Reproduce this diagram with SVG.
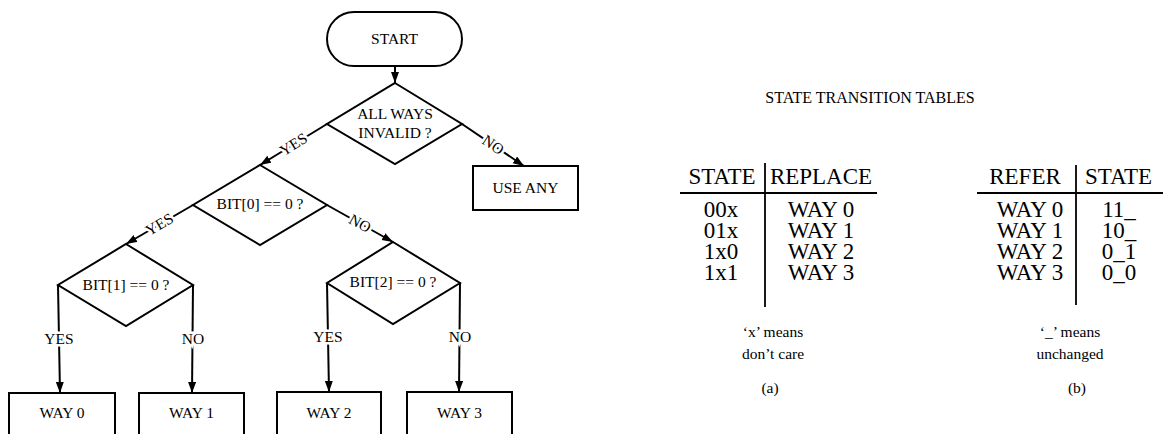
<svg xmlns="http://www.w3.org/2000/svg" width="1163" height="434" viewBox="0 0 1163 434">
<style>
.s{fill:#fff;stroke:#000;stroke-width:2}
.t{font-family:"Liberation Serif","Times New Roman",serif;font-size:15.5px;fill:#000;text-anchor:middle}
.lb{font-family:"Liberation Serif","Times New Roman",serif;font-size:15.5px;fill:#000;text-anchor:middle;stroke:#fff;stroke-width:5;paint-order:stroke}
.c{fill:none;stroke:#000;stroke-width:2}
.tb{font-family:"Liberation Serif","Times New Roman",serif;font-size:23px;fill:#000;text-anchor:middle}
.tl{stroke:#000;stroke-width:1.8}
</style>
<defs>
<marker id="ah" markerUnits="userSpaceOnUse" markerWidth="13" markerHeight="10" refX="11" refY="4" orient="auto">
<path d="M0,0 L11,4 L0,8 Z" fill="#000"/>
</marker>
</defs>
<g id="connectors">
<line class="c" x1="395" y1="66" x2="395" y2="83" marker-end="url(#ah)"/>
<line class="c" x1="327" y1="124" x2="260" y2="165" marker-end="url(#ah)"/>
<line class="c" x1="462" y1="124" x2="524" y2="166" marker-end="url(#ah)"/>
<line class="c" x1="193" y1="205" x2="126" y2="244" marker-end="url(#ah)"/>
<line class="c" x1="327" y1="205" x2="393" y2="242" marker-end="url(#ah)"/>
<line class="c" x1="58" y1="285" x2="60" y2="393" marker-end="url(#ah)"/>
<line class="c" x1="193" y1="285" x2="192" y2="393" marker-end="url(#ah)"/>
<line class="c" x1="327" y1="283" x2="329" y2="392" marker-end="url(#ah)"/>
<line class="c" x1="460" y1="283" x2="459" y2="392" marker-end="url(#ah)"/>
<text class="lb" transform="translate(293.5,144.5) rotate(-31.5)" y="5">YES</text>
<text class="lb" transform="translate(493,145) rotate(34.1)" y="5">NO</text>
<text class="lb" transform="translate(159.5,224.5) rotate(-30.2)" y="5">YES</text>
<text class="lb" transform="translate(360,223.5) rotate(29.3)" y="5">NO</text>
<text class="lb" x="59" y="344">YES</text>
<text class="lb" x="193" y="344">NO</text>
<text class="lb" x="328" y="342">YES</text>
<text class="lb" x="460" y="342">NO</text>
</g>
<g id="start">
<rect class="s" x="327" y="12" width="135" height="54" rx="27" ry="27"/>
<text class="t" x="394.5" y="44">START</text>
</g>
<g id="all-ways-invalid">
<polygon class="s" points="395,83 462,124 395,164 327,124"/>
<text class="t" x="395" y="119">ALL WAYS</text>
<text class="t" x="395" y="138">INVALID ?</text>
</g>
<g id="use-any">
<rect class="s" x="473" y="166" width="105" height="44"/>
<text class="t" x="525.5" y="193">USE ANY</text>
</g>
<g id="bit0">
<polygon class="s" points="260,165 327,205 260,245 193,205"/>
<text class="t" x="260" y="209">BIT[0] == 0 ?</text>
</g>
<g id="bit1">
<polygon class="s" points="126,244 193,285 126,326 58,285"/>
<text class="t" x="126" y="290">BIT[1] == 0 ?</text>
</g>
<g id="bit2">
<polygon class="s" points="393,242 460,283 393,324 327,283"/>
<text class="t" x="393" y="287">BIT[2] == 0 ?</text>
</g>
<g id="way0">
<rect class="s" x="9" y="393" width="106" height="60"/>
<text class="t" x="62" y="418">WAY 0</text>
</g>
<g id="way1">
<rect class="s" x="139" y="393" width="105" height="60"/>
<text class="t" x="191.5" y="418">WAY 1</text>
</g>
<g id="way2">
<rect class="s" x="277" y="392" width="104" height="60"/>
<text class="t" x="329" y="418">WAY 2</text>
</g>
<g id="way3">
<rect class="s" x="407" y="392" width="105" height="60"/>
<text class="t" x="459.5" y="418">WAY 3</text>
</g>
<g id="tables">
<text class="t" x="870" y="103" style="font-size:16px">STATE TRANSITION TABLES</text>
<g id="table-a">
<line class="tl" x1="680" y1="193" x2="877" y2="193"/>
<line class="tl" x1="765" y1="163" x2="765" y2="307"/>
<text class="tb" x="722" y="184">STATE</text>
<text class="tb" x="821" y="184">REPLACE</text>
<text class="tb" x="721" y="217">00x</text>
<text class="tb" x="721" y="238">01x</text>
<text class="tb" x="721" y="259">1x0</text>
<text class="tb" x="721" y="280">1x1</text>
<text class="tb" x="821" y="217">WAY 0</text>
<text class="tb" x="821" y="238">WAY 1</text>
<text class="tb" x="821" y="259">WAY 2</text>
<text class="tb" x="821" y="280">WAY 3</text>
<text class="t" x="773" y="337">‘x’ means</text>
<text class="t" x="773" y="359">don’t care</text>
<text class="t" x="770" y="393">(a)</text>
</g>
<g id="table-b">
<line class="tl" x1="977" y1="193" x2="1163" y2="193"/>
<line class="tl" x1="1076" y1="165" x2="1076" y2="305"/>
<text class="tb" x="1025" y="184">REFER</text>
<text class="tb" x="1118.5" y="184">STATE</text>
<text class="tb" x="1030" y="217">WAY 0</text>
<text class="tb" x="1030" y="238">WAY 1</text>
<text class="tb" x="1030" y="259">WAY 2</text>
<text class="tb" x="1030" y="280">WAY 3</text>
<text class="tb" x="1119" y="217">11_</text>
<text class="tb" x="1119" y="238">10_</text>
<text class="tb" x="1119" y="259">0_1</text>
<text class="tb" x="1119" y="280">0_0</text>
<text class="t" x="1070" y="337">‘_’ means</text>
<text class="t" x="1070" y="359">unchanged</text>
<text class="t" x="1077" y="393">(b)</text>
</g>
</g>
</svg>
